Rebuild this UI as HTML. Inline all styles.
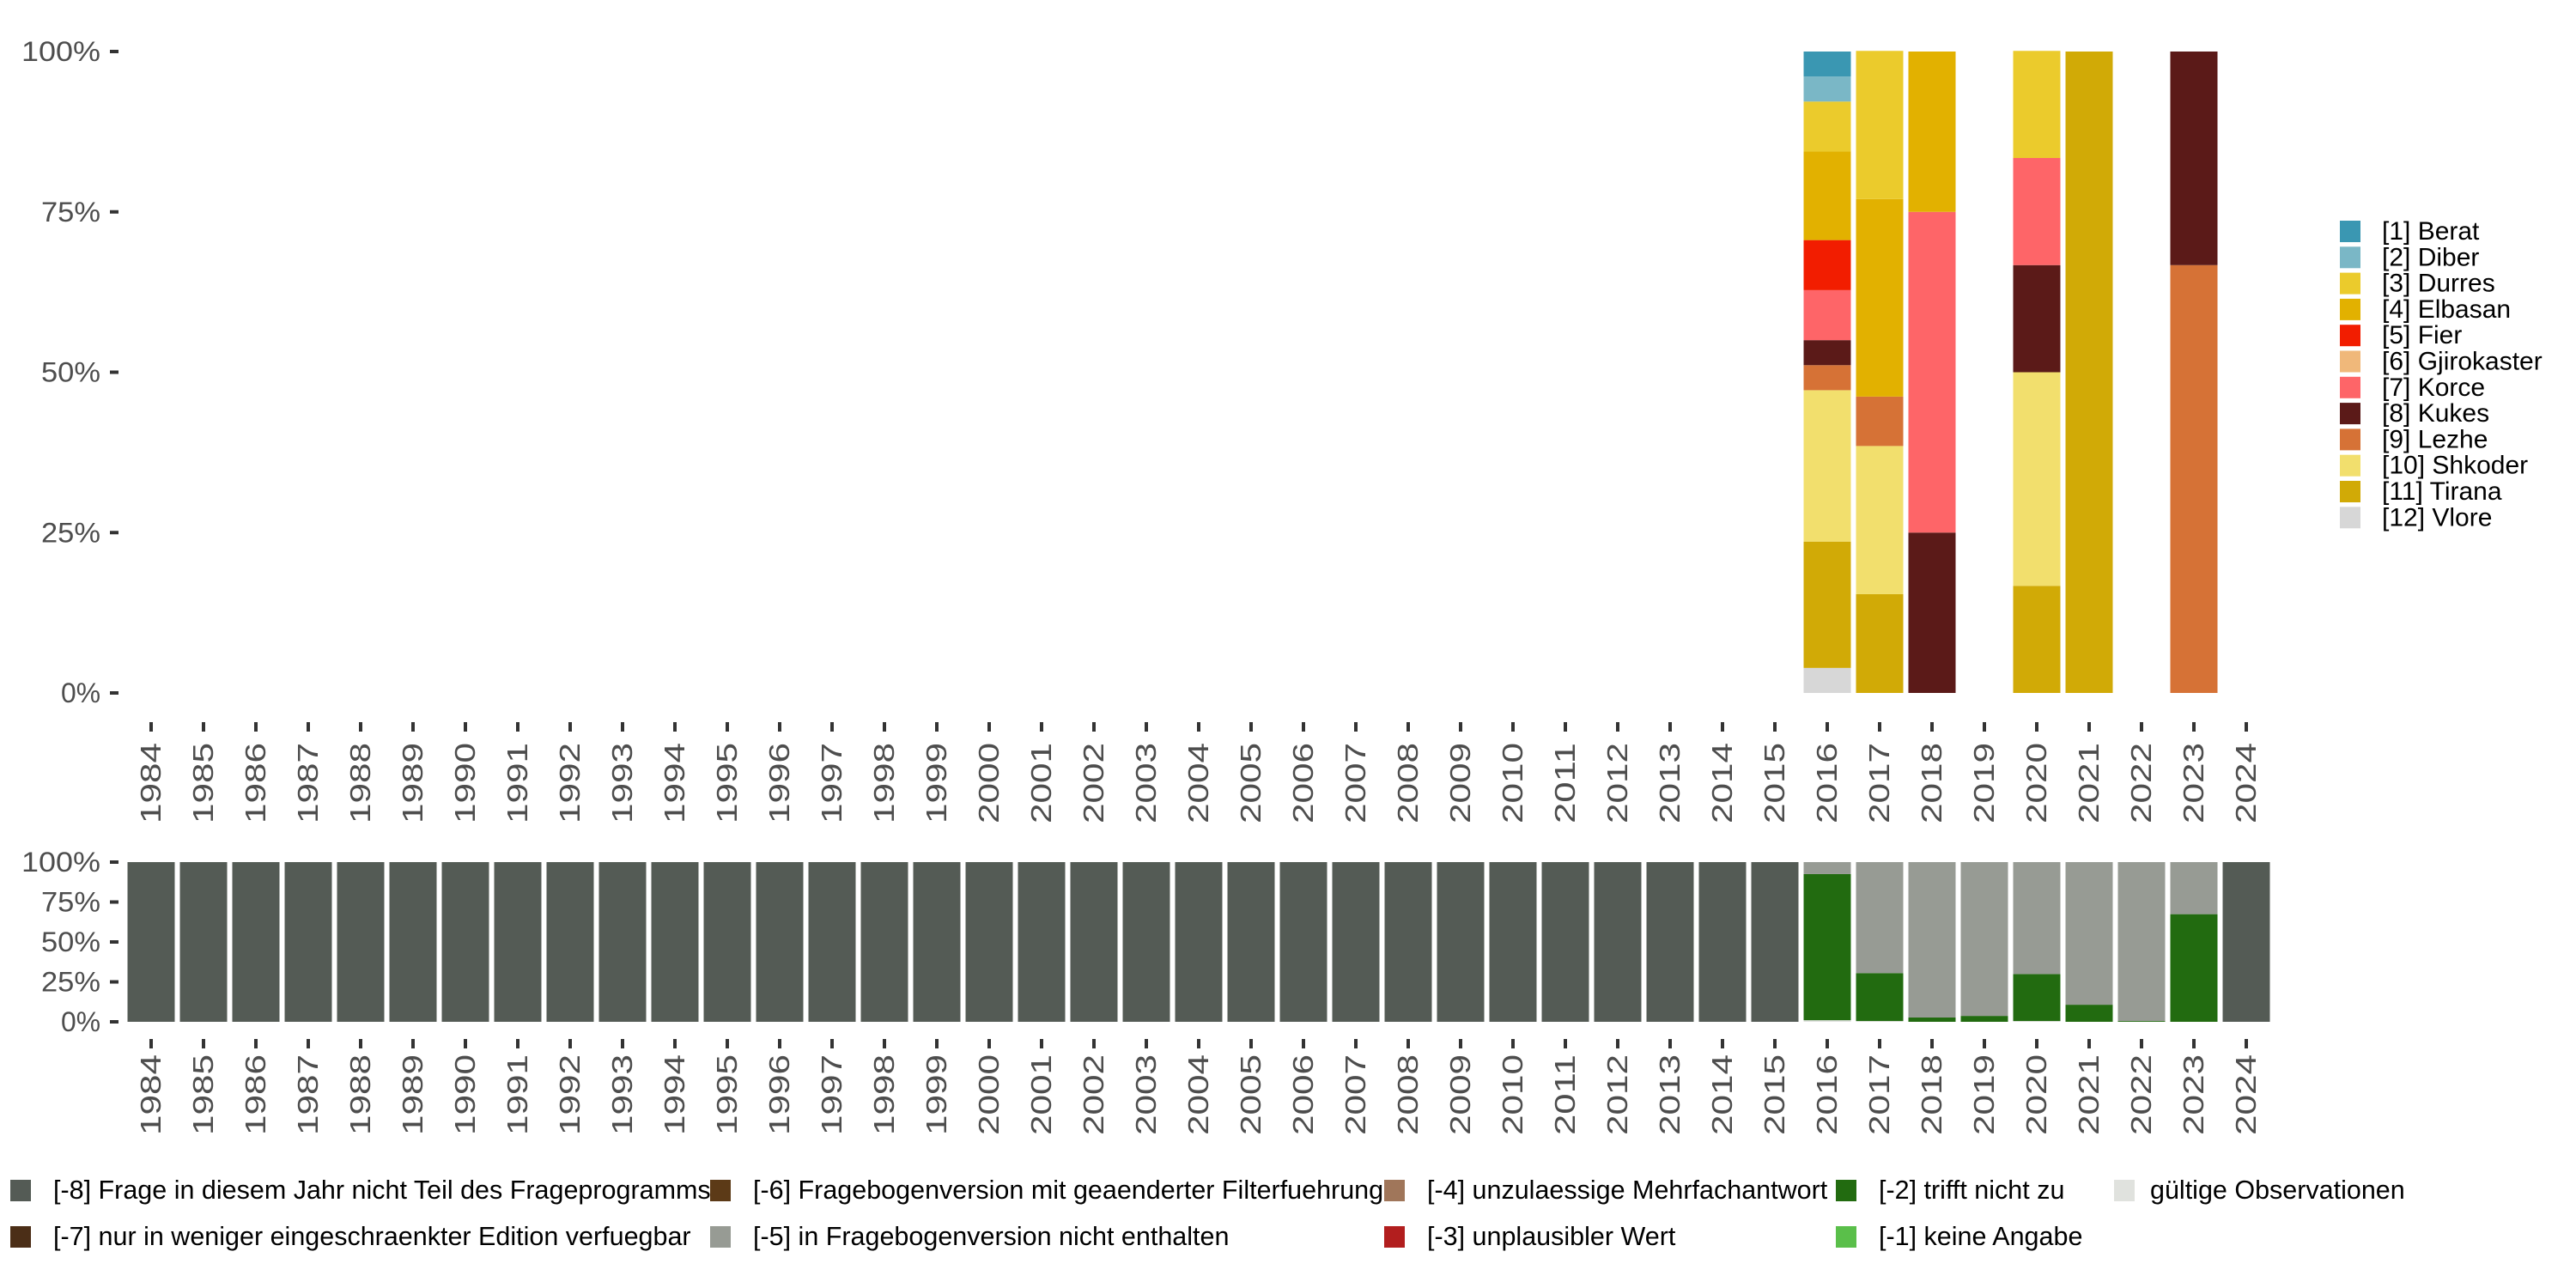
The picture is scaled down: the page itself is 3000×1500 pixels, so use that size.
<!DOCTYPE html>
<html><head><meta charset="utf-8"><style>
html,body{margin:0;padding:0;background:#fff;}
svg{display:block;font-family:"Liberation Sans","DejaVu Sans",sans-serif;}
</style></head><body>
<svg id="chart" width="3000" height="1500" viewBox="0 0 3000 1500" xmlns="http://www.w3.org/2000/svg">
<g id="top"></g>
<g id="bot"></g>
<g id="leg"></g>
<g id="leg2"></g>
</svg>
<script>
// ---- data ----
const years = [];
for (let y = 1984; y <= 2024; y++) years.push(y);
const regions = ["[1] Berat","[2] Diber","[3] Durres","[4] Elbasan","[5] Fier","[6] Gjirokaster","[7] Korce","[8] Kukes","[9] Lezhe","[10] Shkoder","[11] Tirana","[12] Vlore"];
const regionColors = ["#3a97b2","#7ab7c6","#ebcb2c","#e2b100","#f21d00","#f0b87a","#fe6568","#5b1a18","#d67236","#f2df6d","#d1aa06","#d7d7d7"];
const topYears = [2016, 2017, 2018, 2020, 2021, 2023];
const share2016 = [3.9,3.9,7.8,13.8,7.8,0,7.8,3.9,3.9,23.6,19.7,3.9];
const share2017 = [0,0,23.1,30.8,0,0,0,0,7.7,23.1,15.4,0];
const share2018 = [0,0,0,25,0,0,50,25,0,0,0,0];
const share2020 = [0,0,16.7,0,0,0,16.7,16.7,0,33.3,16.7,0];
const share2021 = [0,0,0,0,0,0,0,0,0,0,100,0];
const share2023 = [0,0,0,0,0,0,0,33.3,66.7,0,0,0];
const topShares = [share2016, share2017, share2018, share2020, share2021, share2023];

const missCats = ["[-8] Frage in diesem Jahr nicht Teil des Frageprogramms","[-7] nur in weniger eingeschraenkter Edition verfuegbar","[-6] Fragebogenversion mit geaenderter Filterfuehrung","[-5] in Fragebogenversion nicht enthalten","[-4] unzulaessige Mehrfachantwort","[-3] unplausibler Wert","[-2] trifft nicht zu","[-1] keine Angabe","gültige Observationen"];
const missColors = ["#545b55","#4b2e17","#5c3a17","#979b94","#a0765a","#b21e1e","#226b10","#5abf4a","#e0e2de"];
const missYears = [2016, 2017, 2018, 2019, 2020, 2021, 2022, 2023];
const notAsked = [0,0,0,0,0,0,0,0];
const notInVersion = [7.5,69.5,97.3,96.3,70.1,89.3,99.5,32.6];
const notApplicable = [91.5,30,2.7,3.7,29.4,10.7,0.5,67.4];
const validObs = [1,0.5,0,0,0.5,0,0,0];

// ---- layout ----
const NS = "http://www.w3.org/2000/svg";
const x0 = 176, step = 61.0, bw = 55;
const xOf = y => x0 + (y - 1984) * step;
const topY = v => 807 - v / 100 * 747;
const botY = v => 1190 - v / 100 * 186;
function el(tag, attrs, parent, text) {
  const e = document.createElementNS(NS, tag);
  for (const k in attrs) e.setAttribute(k, attrs[k]);
  if (text !== undefined) e.textContent = text;
  parent.appendChild(e);
  return e;
}
const gt = document.getElementById('top'), gb = document.getElementById('bot');
const tickLabels = ["0%","25%","50%","75%","100%"];
const tickVals = [0,25,50,75,100];
const tickLen = [46,69,69,69,92];
function yAxis(g, f) {
  tickVals.forEach((v, i) => {
    const t = el('text', {x:117, y:f(v)+11, 'text-anchor':'end', 'font-size':32, fill:'#4d4d4d', textLength:tickLen[i], lengthAdjust:'spacingAndGlyphs'}, g, tickLabels[i]);
    
    
    el('rect', {x:128, y:f(v)-2, width:10, height:4, fill:'#333'}, g);
  });
}
function xAxis(g, tickTop, labelTop) {
  years.forEach(y => {
    el('rect', {x:xOf(y)-2, y:tickTop, width:4, height:11, fill:'#333'}, g);
    const t = el('text', {x:0, y:0, 'text-anchor':'end', 'font-size':33, fill:'#4d4d4d', textLength:94, lengthAdjust:'spacingAndGlyphs',
      transform:`translate(${xOf(y)+11},${labelTop}) rotate(-90)`}, g, String(y));
    
    
  });
}
yAxis(gt, topY); yAxis(gb, botY);
xAxis(gt, 841, 865); xAxis(gb, 1210, 1228);

topYears.forEach((yr, j) => {
  let cum = 0;
  for (let i = regions.length - 1; i >= 0; i--) {
    const v = topShares[j][i];
    if (v <= 0) continue;
    const r = el('rect', {x:xOf(yr)-bw/2, y:topY(cum+v), width:bw, height:topY(cum)-topY(cum+v), fill:regionColors[i]}, gt);
    
    
    cum += v;
  }
});

years.forEach(yr => {
  const k = missYears.indexOf(yr);
  let vals;
  if (k < 0) vals = [100,0,0,0,0,0,0,0,0];
  else vals = [notAsked[k],0,0,notInVersion[k],0,0,notApplicable[k],0,validObs[k]];
  let cum = 0;
  for (let i = vals.length - 1; i >= 0; i--) {
    const v = vals[i];
    if (v <= 0) continue;
    const r = el('rect', {x:xOf(yr)-bw/2, y:botY(cum+v), width:bw, height:botY(cum)-botY(cum+v), fill:missColors[i]}, gb);
    
    
    cum += v;
  }
});

const gl = document.getElementById('leg');
regions.forEach((n, i) => {
  const yy = 257 + i * 30.3;
  el('rect', {x:2725, y:yy, width:24, height:25, fill:regionColors[i]}, gl);
  const t = el('text', {x:2774, y:yy+22, 'font-size':30, fill:'#000'}, gl, n);
  
  
});

const gl2 = document.getElementById('leg2');
const colX = [12, 827, 1612, 2138, 2462];
const colOff = [50, 50, 50, 50, 42];
missCats.forEach((n, i) => {
  const c = Math.floor(i / 2), r = i % 2;
  const yy = 1374 + r * 54;
  el('rect', {x:colX[c], y:yy, width:24, height:25, fill:missColors[i]}, gl2);
  const t = el('text', {x:colX[c]+colOff[c], y:yy+22, 'font-size':30.5, fill:'#000'}, gl2, n);
  
  
});
</script>
</body></html>
